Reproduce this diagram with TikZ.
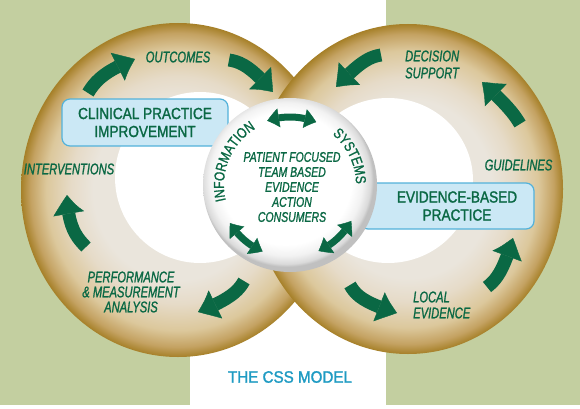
\documentclass[tikz,border=0pt]{standalone}
\usepackage{fontspec}
\usetikzlibrary{arrows.meta,bending,decorations.text}
\newfontfamily\labfont{Liberation Sans}[FakeStretch=0.72,FakeBold=1.2]
\newfontfamily\ctrfont{Liberation Sans}[FakeStretch=0.75,FakeBold=1.2]
\newfontfamily\boxfont{Liberation Sans}[FakeStretch=0.85,FakeBold=1.5]
\newfontfamily\arcfont{Liberation Sans}[FakeStretch=0.82,FakeBold=1.2]
\newfontfamily\cssfont{Liberation Sans}[FakeStretch=0.92,FakeBold=1.5]
\definecolor{bggreen}{RGB}{195,207,160}
\definecolor{ringin}{RGB}{234,229,220}
\definecolor{ringlt}{RGB}{230,219,200}
\definecolor{ringmid}{RGB}{220,200,156}
\definecolor{ringmidb}{RGB}{196,162,98}
\definecolor{ringout}{RGB}{166,128,40}
\definecolor{dkgreen}{RGB}{10,104,68}
\definecolor{boxfill}{RGB}{203,232,245}
\definecolor{boxline}{RGB}{83,178,218}
\definecolor{cssblue}{RGB}{30,155,195}
\definecolor{sphA}{RGB}{242,242,242}
\definecolor{sphB}{RGB}{218,218,218}
\definecolor{sphC}{RGB}{192,192,192}
\pgfdeclareradialshading{ringshade}{\pgfpoint{0bp}{0bp}}{color(0bp)=(ringin); color(13.5bp)=(ringin); color(17bp)=(ringlt); color(21bp)=(ringmid); color(23.5bp)=(ringmidb); color(25bp)=(ringout); color(50bp)=(ringout)}
\pgfdeclareradialshading{sphereshade}{\pgfpoint{-2bp}{3bp}}{color(0bp)=(white); color(19bp)=(white); color(22bp)=(sphA); color(24.2bp)=(sphB); color(25bp)=(sphC); color(50bp)=(sphC)}
\begin{document}
\begin{tikzpicture}[x=1pt,y=1pt,
  lab/.style={text=dkgreen, font=\labfont\itshape\fontsize{15.5}{15}\selectfont, inner sep=0pt},
  ctr/.style={text=dkgreen, font=\ctrfont\itshape\fontsize{14}{15}\selectfont, inner sep=0pt, align=center},
  box/.style={draw=boxline, fill=boxfill, rounded corners=8pt, line width=1.2pt},
  boxtext/.style={text=dkgreen, font=\boxfont\fontsize{16}{18}\selectfont, inner sep=0pt, align=center},
  csst/.style={text=cssblue, font=\cssfont\fontsize{16.5}{18}\selectfont, inner sep=0pt},
  bigarrow/.style={color=dkgreen, line width=13pt, -{Triangle[width=31pt,length=20pt,line width=0.4pt,bend]}},
  dbl/.style={color=dkgreen, line width=7pt, {Triangle[width=19pt,length=12pt,line width=0.4pt,bend]}-{Triangle[width=19pt,length=12pt,line width=0.4pt,bend]}}]
\useasboundingbox (0,0) rectangle (580,408);
\fill[white] (0,0) rectangle (580,408);
\fill[bggreen] (0,3) rectangle (190,408);
\fill[bggreen] (386,3) rectangle (580,408);
% rings
\shade[shading=ringshade] (178,218) ellipse [x radius=157, y radius=167];
\fill[white] (200,230.5) ellipse [x radius=85, y radius=85.5];
\shade[shading=ringshade] (408,219) ellipse [x radius=155, y radius=165];
\fill[white] (388,227.5) ellipse [x radius=85, y radius=82.5];
% boxes
\node[box, boxtext, minimum width=166pt, minimum height=47pt] (cpi) at (145,285.5) {CLINICAL PRACTICE\\IMPROVEMENT};
\node[box, minimum width=174pt, minimum height=46pt] (ebpbox) at (447,202) {};
% sphere
\shade[shading=sphereshade] (290,223) circle[radius=87];
\node[boxtext] (ebp) at (457,202) {EVIDENCE-BASED\\PRACTICE};
% ring labels
\node[lab] (outcomes) at (178,351) {OUTCOMES};
\node[lab] (interv) at (69,239) {INTERVENTIONS};
\node[lab, align=center] (perf) at (131,116) {PERFORMANCE\\\&\ MEASUREMENT\\ANALYSIS};
\node[lab, align=left, anchor=west, font=\labfont\itshape\fontsize{15.5}{17}\selectfont] (decision) at (405,343.5) {DECISION\\SUPPORT};
\node[lab] (guide) at (518.5,243) {GUIDELINES};
\node[lab, align=left, anchor=west, font=\labfont\itshape\fontsize{15.5}{16}\selectfont] (local) at (413,103) {LOCAL\\EVIDENCE};
\node[csst] (css) at (290,31) {THE CSS MODEL};
\node[ctr] (core) at (292,221) {PATIENT FOCUSED\\TEAM BASED\\EVIDENCE\\ACTION\\CONSUMERS};
% curved text
\path[decorate, decoration={text along path, text color=dkgreen, text align=center,
  text={|\arcfont\fontsize{14.5}{14}\selectfont|INFORMATION}}]
  (290,223) ++(202:66) arc[start angle=202, end angle=113, radius=66];
\path[decorate, decoration={text along path, text color=dkgreen, text align=center,
  text={|\arcfont\fontsize{14.5}{14}\selectfont|SYSTEMS}}]
  (290,223) ++(56:66) arc[start angle=56, end angle=-5, radius=66];
% center double arrows
\draw[dbl] (290,221) ++(109:70) arc[start angle=109, end angle=68, radius=70];
\draw[dbl] (290,221) ++(211:70) arc[start angle=211, end angle=247, radius=70];
\draw[dbl] (290,221) ++(294:70) arc[start angle=294, end angle=331, radius=70];
% ring arrows
\draw[bigarrow] (88,315) .. controls (97,330) and (108,338) .. (135,349);
\draw[bigarrow] (229,348) .. controls (242,346) and (252,340) .. (273,316);
\draw[bigarrow] (86,161) .. controls (75,172) and (68,183) .. (67,213);
\draw[bigarrow] (244,127) .. controls (238,116) and (228,108) .. (198,96);
\draw[bigarrow] (381,353) .. controls (368,351) and (358,344) .. (336,321);
\draw[bigarrow] (520,284) .. controls (514,294) and (508,302) .. (482,326);
\draw[bigarrow] (487,121) .. controls (496,128) and (503,136) .. (513,170);
\draw[bigarrow] (350,123) .. controls (356,112) and (365,105) .. (397,95);
\end{tikzpicture}
\end{document}
